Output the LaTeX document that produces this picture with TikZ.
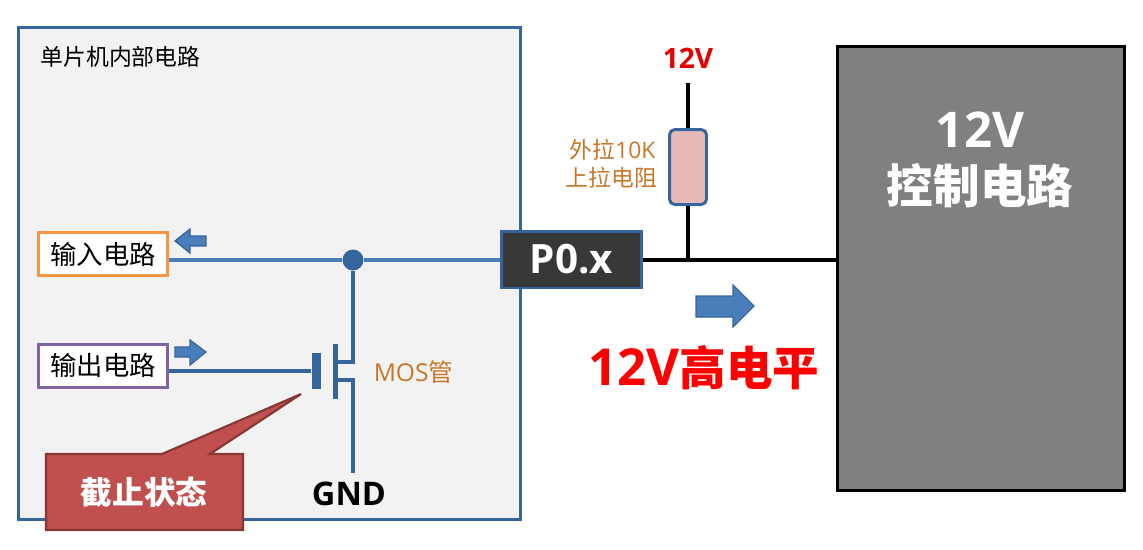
\documentclass[tikz,border=0pt]{standalone}
\usepackage{fontspec}
\setmainfont{Open Sans}
\newfontfamily\cjk{Noto Sans CJK SC}
\usetikzlibrary{calc}

\definecolor{panelblue}{HTML}{34659B}
\definecolor{wireblue}{HTML}{4F81BD}
\definecolor{flowblue}{HTML}{4A7EBB}
\definecolor{noteorange}{HTML}{C8772A}
\definecolor{calloutred}{HTML}{C0504D}
\definecolor{inorange}{HTML}{F79646}
\definecolor{outpurple}{HTML}{8064A2}
\definecolor{respink}{HTML}{E6B9B8}

\newcommand{\fsize}[1]{\fontsize{#1}{#1}\selectfont}

\begin{document}
\begin{tikzpicture}[x=0.02cm, y=-0.02cm]
   \tikzstyle{ckt box}=[draw, line width=1.7pt, fill=white, minimum width=2.6cm, minimum height=0.86cm, inner sep=0pt, font=\fsize{15}\cjk]
   \tikzstyle{bus}=[line width=2.8pt, draw=wireblue!85!panelblue]
   \tikzstyle{mos line}=[line width=2.4pt, draw=panelblue]
   \tikzstyle{black wire}=[line width=2.8pt, draw=black]
   \tikzstyle{flow arrow}=[fill=flowblue, draw=panelblue, line width=0.7pt]
   \tikzstyle{note}=[text=noteorange, inner sep=0pt]
   \tikzstyle{resistor}=[draw=panelblue, line width=1.7pt, rounded corners=3pt, fill=respink, minimum width=0.74cm, minimum height=1.5cm, inner sep=0pt]

\useasboundingbox (0,0) rectangle (1143,549);

% internal circuit panel
\node[draw=panelblue, line width=1.7pt, fill=black!5, minimum width=10.06cm, minimum height=9.86cm, inner sep=0pt] (panel) at (269.5,273.5) {};
\node[inner sep=0pt, font=\fsize{13}\cjk] (title) at (120.5,57) {单片机内部电路};

\node[ckt box, draw=inorange] (input) at (103,254) {输入电路};
\node[ckt box, draw=outpurple] (output) at (103,365.5) {输出电路};
\node[draw=panelblue, line width=1.7pt, fill=black!78, minimum width=2.82cm, minimum height=1.14cm, inner sep=0pt, text=white, font=\fsize{23}\bfseries] (port) at (571.5,259.5) {P0.x};

% mosfet
\node[circle, fill=panelblue, minimum size=0.42cm, inner sep=0pt] (junction) at (353,260) {};
\node[fill=panelblue, minimum width=0.19cm, minimum height=0.72cm, inner sep=0pt] (gate) at (316.5,371) {};
\node[fill=panelblue, minimum width=0.1cm, minimum height=1.1cm, inner sep=0pt] (channel) at (335,371.5) {};
\coordinate (drain) at (335,362);
\coordinate (source) at (335,380);
\coordinate (gnd end) at (353,473);
\node[inner sep=0pt, font=\fsize{18.5}\bfseries] (gnd) at (349,494) {GND};
\node[note, font=\fsize{14}] (mos) at (413.5,372) {MOS{\cjk 管}};

\draw[bus] (input.east |- junction) -- (junction) -- (port.west |- junction);
\draw[mos line] (output.east |- gate) -- (gate);
\draw[mos line] (junction) |- (drain);
\draw[mos line] (source) -| (gnd end);

% small arrows
\draw[flow arrow] (206,236) -- (190,236) -- (190,229) -- (175,241) -- (190,253) -- (190,246) -- (206,246) -- cycle;
\draw[flow arrow] (175,347) -- (190,347) -- (190,340) -- (206,352) -- (190,365) -- (190,357) -- (175,357) -- cycle;

% callout
\draw[fill=calloutred, draw=calloutred!70!black, line width=1.2pt] (46,454) -- (162,454) -- (301,394) -- (210,454) -- (243,454) -- (243,530) -- (46,530) -- cycle;
\node[inner sep=0pt, text=white, font=\fsize{18}\cjk\bfseries] (state) at (144,492) {截止状态};

% pull up
\node[inner sep=0pt, text=red!90!black, font=\fsize{16}\bfseries] (vcc) at (688,58) {12V};
\coordinate (vcc end) at (688,83);
\coordinate (tap) at (688,260);
\draw[black wire] (vcc end) -- (tap);
\node[resistor] (res) at (688,167) {};
\node[note, font=\fsize{13}\cjk] (resnote a) at (612.5,150) {外拉{\rmfamily 10K}};
\node[note, font=\fsize{13}\cjk] (resnote b) at (611.5,178) {上拉电阻};

% control block
\node[draw=black, line width=1.7pt, fill=black!50, minimum width=5.76cm, minimum height=8.9cm, inner sep=0pt] (ctrl) at (981,268.5) {};
\node[inner sep=0pt, text=white, font=\fsize{28}\bfseries] (ctrlv) at (980,130) {12V};
\node[inner sep=0pt, text=white, font=\fsize{26.5}\cjk\bfseries] (ctrlname) at (980,186) {控制电路};

\draw[black wire] (port.east |- tap) -- (ctrl.west |- tap);

% level
\draw[flow arrow] (696,296) -- (733,296) -- (733,285) -- (754,306) -- (733,327) -- (733,317) -- (696,317) -- cycle;
\node[inner sep=0pt, text=red, font=\fsize{29}\bfseries] (level) at (704,368) {12V{\fsize{26.5}\cjk 高电平}};

\end{tikzpicture}
\end{document}
